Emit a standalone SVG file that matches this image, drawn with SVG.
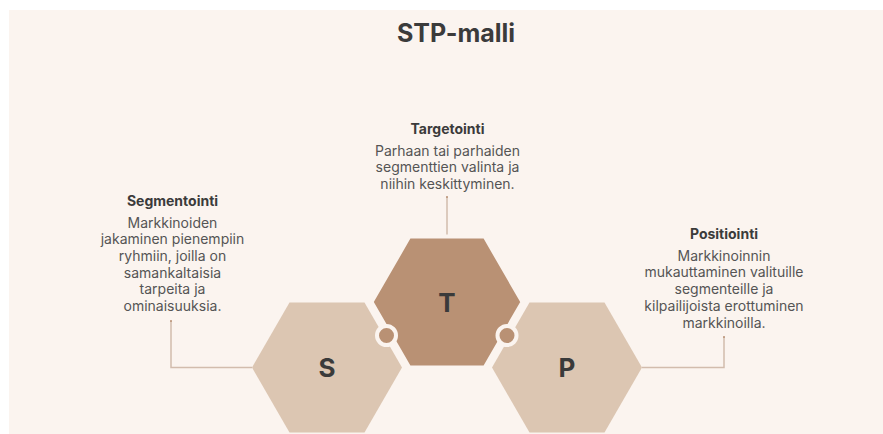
<svg xmlns="http://www.w3.org/2000/svg" width="883" height="434" viewBox="0 0 883 434">
<style>
.title{font-family:Inter,"Liberation Sans",sans-serif;font-weight:700;font-size:25px;fill:#3b3b3b;text-anchor:middle}
.head{font-family:Inter,"Liberation Sans",sans-serif;font-weight:700;font-size:14px;fill:#3b3b3b;text-anchor:middle}
.body{font-family:Inter,"Liberation Sans",sans-serif;font-size:14px;fill:#555;text-anchor:middle}
.letter{font-family:Inter,"Liberation Sans",sans-serif;font-weight:700;font-size:26px;fill:#3a3a3a;text-anchor:middle}
.light{fill:#dcc6b2}
.dark{fill:#b99174;stroke:#fbf4ef;stroke-width:4;stroke-linejoin:round}
.conn{fill:none;stroke:#d2bcad;stroke-width:1.5}
</style>
<rect x="9" y="10" width="874" height="424" fill="#fbf4ef"/>
<text class="title" x="456" y="42">STP-malli</text>
<g id="connectors">
<polyline class="conn" points="252,367.5 171,367.5 171,321"/>
<polyline class="conn" points="447,237 447,197"/>
<polyline class="conn" points="642,367.5 724,367.5 724,337"/>
<circle cx="171" cy="321" r="1" fill="#b99174"/>
<circle cx="447" cy="197" r="1" fill="#b99174"/>
<circle cx="724" cy="337" r="1" fill="#b99174"/>
</g>
<g id="node-S">
<polygon class="light" points="252,367.5 289.5,302.5 364.5,302.5 402,367.5 364.5,432.5 289.5,432.5"/>
<text class="letter" x="327" y="377">S</text>
</g>
<g id="node-P">
<polygon class="light" points="492,367.5 529.5,302.5 604.5,302.5 642,367.5 604.5,432.5 529.5,432.5"/>
<text class="letter" x="567" y="377">P</text>
</g>
<g id="node-T">
<polygon class="dark" points="371.5,302 409.25,236.6 484.75,236.6 522.5,302 484.75,367.4 409.25,367.4"/>
<text class="letter" x="447" y="312">T</text>
<circle cx="386.5" cy="335.5" r="9.5" fill="#b99174" stroke="#fbf4ef" stroke-width="4"/>
<circle cx="507" cy="335.5" r="9.5" fill="#b99174" stroke="#fbf4ef" stroke-width="4"/>
</g>
<g id="text-S">
<text class="head" x="172.5" y="205.5">Segmentointi</text>
<text class="body" x="172.5" y="227.5">Markkinoiden</text>
<text class="body" x="172.5" y="244.2">jakaminen pienempiin</text>
<text class="body" x="172.5" y="260.9">ryhmiin, joilla on</text>
<text class="body" x="172.5" y="277.6">samankaltaisia</text>
<text class="body" x="172.5" y="294.3">tarpeita ja</text>
<text class="body" x="172.5" y="311">ominaisuuksia.</text>
</g>
<g id="text-T">
<text class="head" x="447.5" y="134">Targetointi</text>
<text class="body" x="447.5" y="155.5">Parhaan tai parhaiden</text>
<text class="body" x="447.5" y="172.2">segmenttien valinta ja</text>
<text class="body" x="447.5" y="188.9">niihin keskittyminen.</text>
</g>
<g id="text-P">
<text class="head" x="724" y="239">Positiointi</text>
<text class="body" x="724" y="260.7">Markkinoinnin</text>
<text class="body" x="724" y="277.4">mukauttaminen valituille</text>
<text class="body" x="724" y="294.1">segmenteille ja</text>
<text class="body" x="724" y="310.8">kilpailijoista erottuminen</text>
<text class="body" x="724" y="327.5">markkinoilla.</text>
</g>
</svg>
